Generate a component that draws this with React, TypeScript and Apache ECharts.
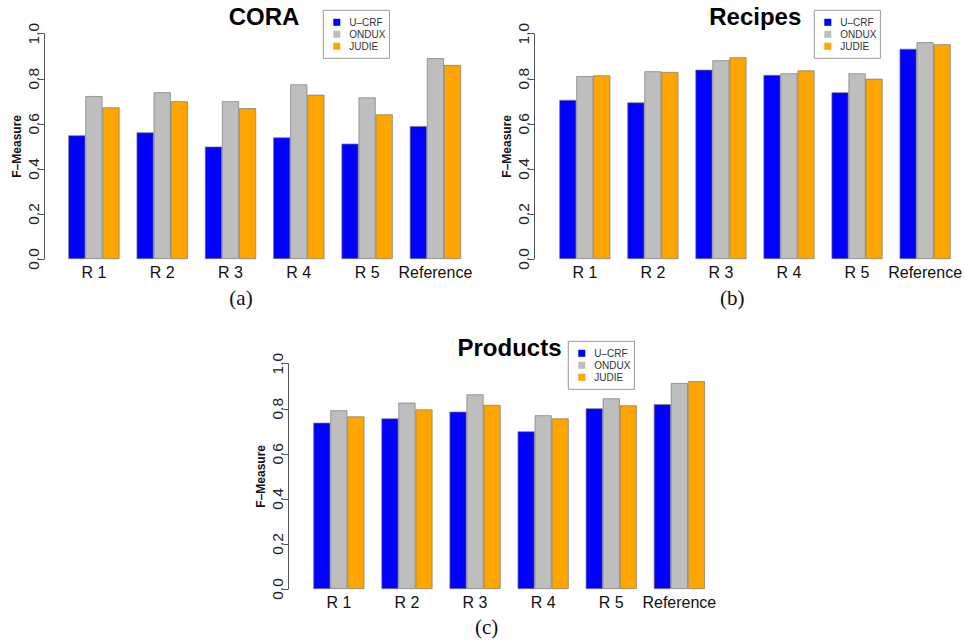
import React, { useEffect, useRef } from "react";
import * as echarts from "echarts";

const categories = ["R 1", "R 2", "R 3", "R 4", "R 5", "Reference"];
const seriesNames = ["U–CRF", "ONDUX", "JUDIE"];
const seriesColors = ["#0000FF", "#BEBEBE", "#FFA500"];
const yTicks = [0, 0.2, 0.4, 0.6, 0.8, 1.0];

const coraUCRF = [0.549, 0.562, 0.499, 0.54, 0.512, 0.59];
const coraONDUX = [0.723, 0.74, 0.7, 0.775, 0.717, 0.891];
const coraJUDIE = [0.673, 0.7, 0.669, 0.729, 0.642, 0.861];

const recipesUCRF = [0.706, 0.695, 0.84, 0.817, 0.74, 0.933];
const recipesONDUX = [0.812, 0.833, 0.882, 0.824, 0.824, 0.962];
const recipesJUDIE = [0.815, 0.83, 0.895, 0.837, 0.8, 0.953];

const productsUCRF = [0.738, 0.757, 0.787, 0.7, 0.802, 0.82];
const productsONDUX = [0.793, 0.827, 0.864, 0.771, 0.846, 0.914];
const productsJUDIE = [0.766, 0.797, 0.817, 0.757, 0.815, 0.922];

const panelTitles = ["CORA", "Recipes", "Products"];
const captions = ["(a)", "(b)", "(c)"];
const yAxisTitle = "F–Measure";

const FONT = "Liberation Sans, Arial, Helvetica, sans-serif";

export default function App() {
  const ref = useRef<HTMLDivElement>(null);

  useEffect(() => {
    if (!ref.current) return;
    const chart = echarts.init(ref.current, undefined, { renderer: "svg" });

    const panels = [
      { data: [coraUCRF, coraONDUX, coraJUDIE], grid: { left: 59.75, top: 33.7, width: 409.8, height: 225.3 }, axisX: 44, legend: { left: 323.3, top: 10.3 }, title: { x: 264, y: 16.7 }, caption: { x: 241, y: 298 } },
      { data: [recipesUCRF, recipesONDUX, recipesJUDIE], grid: { left: 550.8, top: 33.7, width: 408.6, height: 225.3 }, axisX: 534, legend: { left: 814.3, top: 10.3 }, title: { x: 755.3, y: 16.7 }, caption: { x: 732.3, y: 298 } },
      { data: [productsUCRF, productsONDUX, productsJUDIE], grid: { left: 304.8, top: 363.7, width: 408.6, height: 225.3 }, axisX: 288.3, legend: { left: 568.3, top: 341.3 }, title: { x: 509.5, y: 347.7 }, caption: { x: 486.7, y: 627.3 } },
    ];

    const grids: any[] = [];
    const xAxes: any[] = [];
    const yAxes: any[] = [];
    const series: any[] = [];
    const legends: any[] = [];
    const graphics: any[] = [];

    panels.forEach((p, i) => {
      grids.push({ ...p.grid, containLabel: false });
      xAxes.push({
        type: "category",
        gridIndex: i,
        data: categories,
        axisLine: { show: false },
        axisTick: { show: false },
        axisLabel: { fontSize: 16, color: "#111", margin: 5, fontFamily: FONT, interval: 0 },
      });
      yAxes.push({
        type: "value",
        gridIndex: i,
        min: 0,
        max: 1,
        interval: 0.2,
        offset: p.grid.left - p.axisX,
        splitLine: { show: false },
        axisLine: { show: true, lineStyle: { color: "#555", width: 1 } },
        axisTick: { show: true, length: 5, lineStyle: { color: "#555" } },
        axisLabel: {
          rotate: 90,
          fontSize: 15.5,
          color: "#222",
          margin: 3,
          fontFamily: FONT,
          formatter: (v: number) => (yTicks.some((t) => Math.abs(t - v) < 1e-9) ? v.toFixed(1) : ""),
        },
        name: yAxisTitle,
        nameLocation: "middle",
        nameRotate: 90,
        nameGap: 21,
        nameTextStyle: { fontSize: 12, fontWeight: "bold", color: "#111", fontFamily: FONT },
      });
      p.data.forEach((vals, k) => {
        series.push({
          type: "bar",
          name: seriesNames[k],
          xAxisIndex: i,
          yAxisIndex: i,
          data: vals,
          barGap: "0%",
          barCategoryGap: "25%",
          itemStyle: { color: seriesColors[k], borderColor: "#7a7a7a", borderWidth: 0.7 },
        });
      });
      legends.push({
        orient: "vertical",
        left: p.legend.left,
        top: p.legend.top,
        data: seriesNames,
        icon: "rect",
        itemWidth: 7,
        itemHeight: 7,
        itemGap: 0,
        padding: [6, 4, 6, 10],
        borderColor: "#999",
        borderWidth: 1,
        backgroundColor: "#fff",
        selectedMode: false,
        itemStyle: { borderWidth: 0 },
        textStyle: { fontSize: 10, color: "#333", fontFamily: FONT, lineHeight: 12, padding: [0, 0, 0, 4] },
      });
      graphics.push({
        type: "text",
        x: p.title.x,
        y: p.title.y,
        style: { text: panelTitles[i], textAlign: "center", textVerticalAlign: "middle", font: `bold 24px ${FONT}`, fill: "#000" },
      });
      graphics.push({
        type: "text",
        x: p.caption.x,
        y: p.caption.y,
        style: { text: captions[i], textAlign: "center", textVerticalAlign: "middle", font: `21px "Liberation Serif", "DejaVu Serif", serif`, fill: "#111" },
      });
    });

    chart.setOption({
      animation: false,
      backgroundColor: "#fff",
      grid: grids,
      xAxis: xAxes,
      yAxis: yAxes,
      series,
      legend: legends,
      graphic: graphics,
    });

    return () => chart.dispose();
  }, []);

  return <div ref={ref} style={{ position: "fixed", left: 0, top: 0, width: 965, height: 641 }} />;
}
